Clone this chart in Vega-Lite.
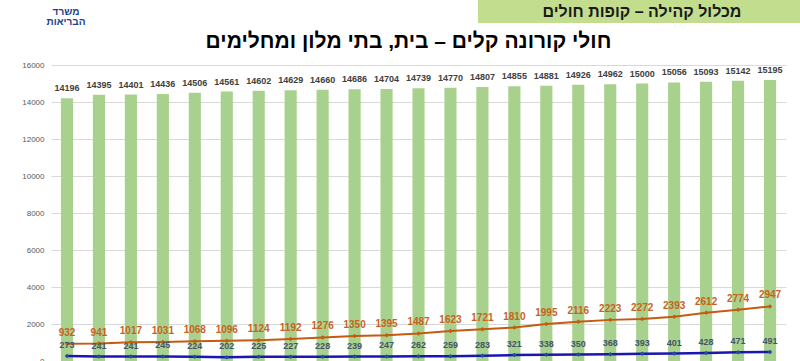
{
  "$schema": "https://vega.github.io/schema/vega-lite/v6.json",
  "padding": {"left": 21, "top": 0, "right": 0, "bottom": 0},
  "autosize": {"type": "pad"},
  "spacing": 4,
  "config": {"view": {"stroke": null}, "font": "Liberation Sans", "background": "#ffffff"},
  "datasets": {
    "d": [
      {"day": 1, "total": 14196, "orange": 932, "blue": 273},
      {"day": 2, "total": 14395, "orange": 941, "blue": 241},
      {"day": 3, "total": 14401, "orange": 1017, "blue": 241},
      {"day": 4, "total": 14436, "orange": 1031, "blue": 245},
      {"day": 5, "total": 14506, "orange": 1068, "blue": 224},
      {"day": 6, "total": 14561, "orange": 1096, "blue": 202},
      {"day": 7, "total": 14602, "orange": 1124, "blue": 225},
      {"day": 8, "total": 14629, "orange": 1192, "blue": 227},
      {"day": 9, "total": 14660, "orange": 1276, "blue": 228},
      {"day": 10, "total": 14686, "orange": 1350, "blue": 239},
      {"day": 11, "total": 14704, "orange": 1395, "blue": 247},
      {"day": 12, "total": 14739, "orange": 1487, "blue": 262},
      {"day": 13, "total": 14770, "orange": 1623, "blue": 259},
      {"day": 14, "total": 14807, "orange": 1721, "blue": 283},
      {"day": 15, "total": 14855, "orange": 1810, "blue": 321},
      {"day": 16, "total": 14881, "orange": 1995, "blue": 338},
      {"day": 17, "total": 14926, "orange": 2116, "blue": 350},
      {"day": 18, "total": 14962, "orange": 2223, "blue": 368},
      {"day": 19, "total": 15000, "orange": 2272, "blue": 393},
      {"day": 20, "total": 15056, "orange": 2393, "blue": 401},
      {"day": 21, "total": 15093, "orange": 2612, "blue": 428},
      {"day": 22, "total": 15142, "orange": 2774, "blue": 471},
      {"day": 23, "total": 15195, "orange": 2947, "blue": 491}
    ]
  },
  "vconcat": [
    {
      "spacing": 392,
      "hconcat": [
        {
          "width": 30,
          "height": 23,
          "data": {"values": [{"t": "משרד\nהבריאות"}]},
          "mark": {"type": "text", "lineBreak": "\n", "fontSize": 10, "fontWeight": "bold", "color": "#1f3f8f", "lineHeight": 10},
          "encoding": {"text": {"field": "t"}}
        },
        {
          "width": 328,
          "height": 23,
          "view": {"fill": "#c3dd8f", "stroke": null},
          "data": {"values": [{"t": "מכלול קהילה – קופות חולים"}]},
          "mark": {"type": "text", "fontSize": 16, "fontWeight": "bold", "color": "#1a1a1a"},
          "encoding": {"text": {"field": "t"}}
        }
      ]
    },
    {
      "width": 735,
      "height": 296,
      "title": {"text": "חולי קורונה קלים – בית, בתי מלון ומחלימים", "fontSize": 21, "fontWeight": "bold", "font": "Liberation Sans", "color": "#000000", "offset": 9, "dx": -10, "anchor": "middle"},
      "data": {"name": "d"},
      "resolve": {"scale": {"y": "shared"}, "axis": {"y": "independent"}},
      "encoding": {
        "x": {"field": "day", "type": "ordinal", "axis": null, "scale": {"paddingInner": 0.62, "paddingOuter": 0.31}}
      },
      "layer": [
        {
          "mark": {"type": "bar", "color": "#a9d18e"},
          "encoding": {
            "y": {"field": "total", "type": "quantitative", "title": null,
              "scale": {"domain": [0, 16000], "nice": false},
              "axis": {"values": [0, 2000, 4000, 6000, 8000, 10000, 12000, 14000, 16000], "labelOverlap": false, "format": "d", "grid": true, "gridColor": "#d9d9d9", "domain": false, "ticks": false, "labelFontSize": 8, "labelColor": "#595959", "labelPadding": 7}}
          }
        },
        {
          "mark": {"type": "text", "baseline": "bottom", "dy": -5, "fontSize": 9, "fontWeight": "bold", "color": "#404040"},
          "encoding": {
            "y": {"field": "total", "type": "quantitative", "axis": null},
            "text": {"field": "total", "type": "quantitative", "format": "d"}
          }
        },
        {
          "mark": {"type": "line", "color": "#c55a11", "strokeWidth": 2, "point": {"filled": true, "size": 20, "shape": "diamond", "color": "#c55a11"}},
          "encoding": {
            "y": {"field": "orange", "type": "quantitative", "axis": null}
          }
        },
        {
          "mark": {"type": "text", "baseline": "bottom", "dy": -6, "fontSize": 10, "fontWeight": "bold", "color": "#c8621c"},
          "encoding": {
            "y": {"field": "orange", "type": "quantitative", "axis": null},
            "text": {"field": "orange", "type": "quantitative", "format": "d"}
          }
        },
        {
          "mark": {"type": "line", "color": "#1818b0", "strokeWidth": 2.5, "point": {"filled": true, "size": 20, "shape": "diamond", "color": "#1f4e99"}},
          "encoding": {
            "y": {"field": "blue", "type": "quantitative", "axis": null}
          }
        },
        {
          "mark": {"type": "text", "baseline": "bottom", "dy": -6, "fontSize": 9, "fontWeight": "bold", "color": "#44546a"},
          "encoding": {
            "y": {"field": "blue", "type": "quantitative", "axis": null},
            "text": {"field": "blue", "type": "quantitative", "format": "d"}
          }
        }
      ]
    }
  ]
}
